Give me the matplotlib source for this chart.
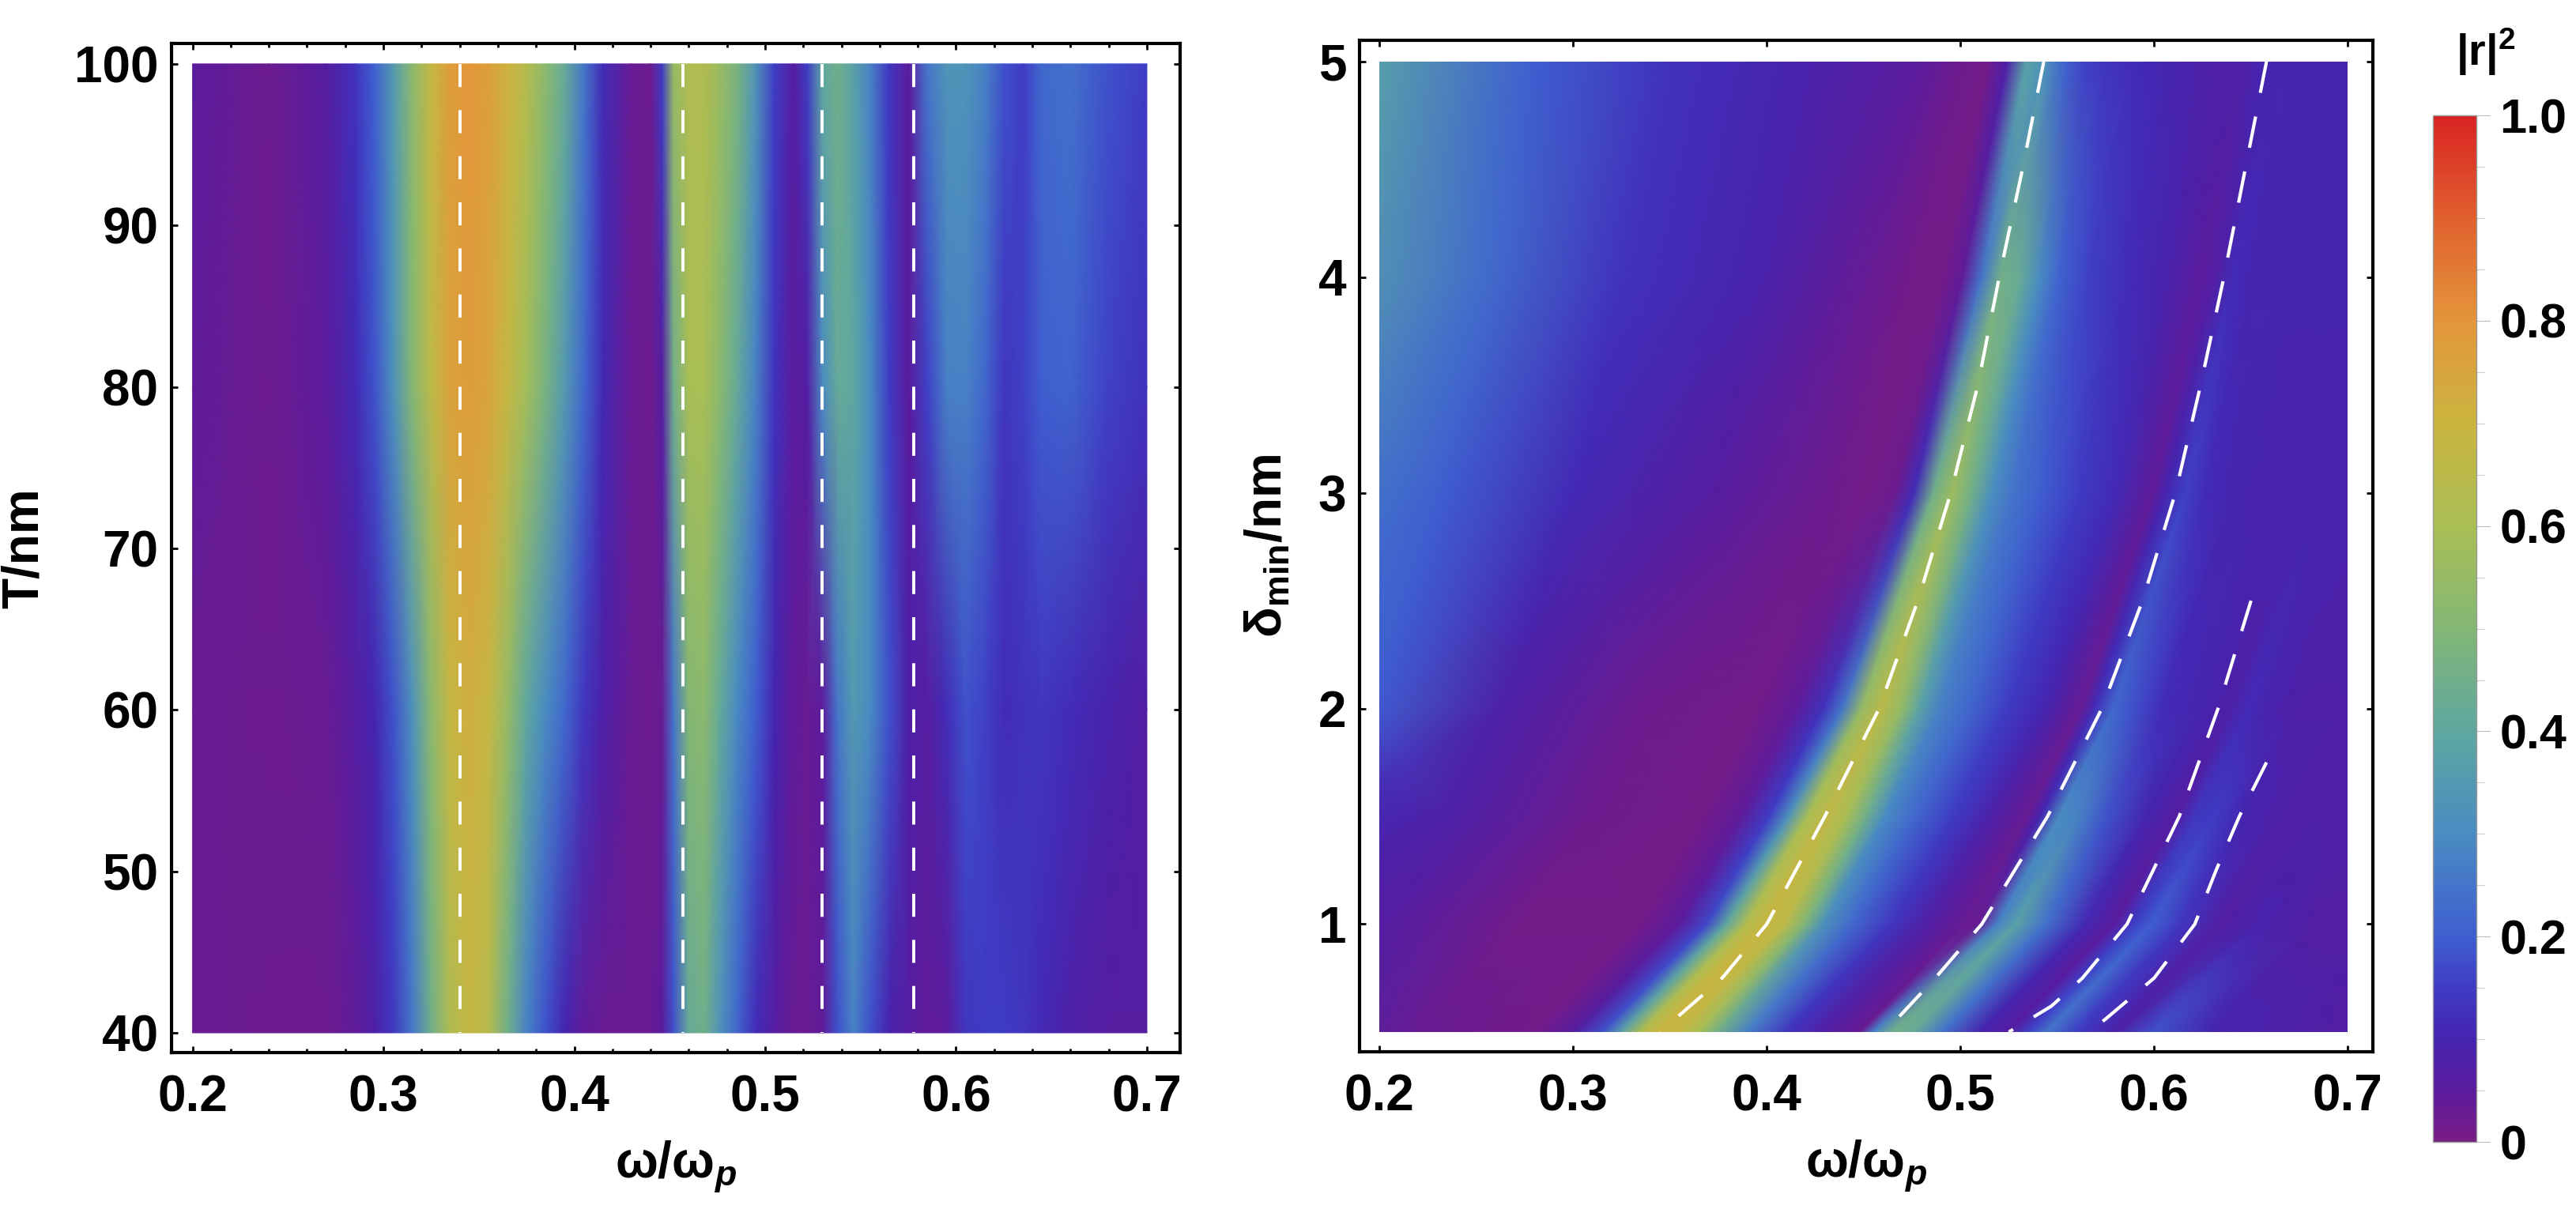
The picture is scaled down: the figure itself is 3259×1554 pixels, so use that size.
import numpy as np
import matplotlib
matplotlib.use('Agg')
import matplotlib.pyplot as plt
from matplotlib.colors import LinearSegmentedColormap
from matplotlib.patches import Rectangle
from matplotlib.ticker import MultipleLocator

plt.rcParams['font.family'] = ['Liberation Sans', 'DejaVu Sans']
plt.rcParams['font.weight'] = 'bold'
plt.rcParams['axes.labelweight'] = 'bold'
plt.rcParams['mathtext.fontset'] = 'custom'
plt.rcParams['mathtext.rm'] = 'Liberation Sans:bold'
plt.rcParams['mathtext.it'] = 'Liberation Sans:bold:italic'
plt.rcParams['mathtext.bf'] = 'Liberation Sans:bold'
plt.rcParams['lines.scale_dashes'] = False

# ---- left panel: |r|^2 over omega/omega_p and T ----
left_omega = [0.20, 0.24, 0.27, 0.285, 0.295, 0.305, 0.315, 0.325, 0.335, 0.345,
              0.355, 0.365, 0.375, 0.385, 0.395, 0.405, 0.415, 0.43, 0.44, 0.446,
              0.452, 0.46, 0.468, 0.476, 0.485, 0.495, 0.505, 0.515, 0.522, 0.53,
              0.538, 0.546, 0.555, 0.565, 0.575, 0.585, 0.595, 0.605, 0.615, 0.625,
              0.635, 0.645, 0.66, 0.68, 0.70]
left_T = [40, 60, 80, 100]
r2_T40 = [0.03, 0.02, 0.02, 0.04, 0.08, 0.14, 0.25, 0.45, 0.62, 0.68,
          0.64, 0.45, 0.28, 0.18, 0.10, 0.04, 0.03, 0.03, 0.03, 0.05,
          0.18, 0.42, 0.45, 0.33, 0.22, 0.12, 0.06, 0.03, 0.03, 0.04,
          0.18, 0.28, 0.18, 0.09, 0.06, 0.04, 0.05, 0.14, 0.15, 0.15,
          0.14, 0.11, 0.08, 0.06, 0.06]
r2_T60 = [0.03, 0.02, 0.03, 0.06, 0.10, 0.18, 0.32, 0.52, 0.68, 0.72,
          0.68, 0.55, 0.40, 0.30, 0.22, 0.14, 0.08, 0.03, 0.02, 0.03,
          0.25, 0.50, 0.52, 0.42, 0.30, 0.20, 0.10, 0.04, 0.03, 0.05,
          0.25, 0.35, 0.30, 0.18, 0.08, 0.06, 0.12, 0.18, 0.16, 0.12,
          0.13, 0.14, 0.12, 0.09, 0.07]
r2_T80 = [0.04, 0.02, 0.05, 0.11, 0.18, 0.32, 0.50, 0.66, 0.76, 0.78,
          0.75, 0.68, 0.58, 0.47, 0.35, 0.22, 0.11, 0.03, 0.02, 0.06,
          0.45, 0.60, 0.60, 0.52, 0.42, 0.28, 0.13, 0.05, 0.07, 0.30,
          0.42, 0.40, 0.30, 0.15, 0.05, 0.16, 0.27, 0.28, 0.22, 0.14,
          0.16, 0.20, 0.21, 0.16, 0.13]
r2_T100 = [0.05, 0.02, 0.06, 0.13, 0.20, 0.35, 0.52, 0.68, 0.78, 0.80,
           0.77, 0.71, 0.63, 0.52, 0.42, 0.25, 0.12, 0.03, 0.02, 0.15,
           0.55, 0.62, 0.62, 0.56, 0.48, 0.33, 0.15, 0.06, 0.15, 0.40,
           0.45, 0.38, 0.28, 0.14, 0.05, 0.25, 0.33, 0.33, 0.28, 0.18,
           0.15, 0.22, 0.24, 0.18, 0.15]
left_marks = [0.34, 0.457, 0.53, 0.578]   # dashed resonance positions

# ---- right panel: |r|^2 over omega/omega_p and delta_min ----
# omega sampled relative to the first ridge; each row is moved by ridge_offset
right_u = [0.00, 0.08, 0.15, 0.22, 0.28, 0.30, 0.315, 0.325, 0.335, 0.345,
           0.355, 0.365, 0.375, 0.39, 0.41, 0.43, 0.448, 0.455, 0.465, 0.475,
           0.49, 0.51, 0.525, 0.535, 0.545, 0.56, 0.58, 0.60, 0.63, 0.70]
right_delta = [0.5, 1.0, 1.5, 2.0, 3.0, 4.0, 5.0]
ridge_offset = [0.0, 0.054, 0.086, 0.114, 0.151, 0.176, 0.199]
r2_d05 = [0.10, 0.10, 0.10, 0.03, 0.01, 0.06, 0.18, 0.38, 0.62, 0.70,
          0.68, 0.60, 0.45, 0.27, 0.14, 0.07, 0.03, 0.28, 0.45, 0.43,
          0.25, 0.10, 0.06, 0.16, 0.25, 0.15, 0.08, 0.18, 0.10, 0.07]
r2_d10 = [0.08, 0.08, 0.06, 0.01, 0.01, 0.05, 0.17, 0.40, 0.62, 0.69,
          0.66, 0.50, 0.32, 0.22, 0.14, 0.07, 0.03, 0.03, 0.28, 0.38,
          0.24, 0.11, 0.05, 0.15, 0.20, 0.14, 0.07, 0.09, 0.07, 0.07]
r2_d15 = [0.15, 0.12, 0.08, 0.02, 0.01, 0.04, 0.15, 0.32, 0.60, 0.67,
          0.60, 0.45, 0.30, 0.22, 0.15, 0.08, 0.03, 0.10, 0.30, 0.28,
          0.18, 0.10, 0.06, 0.14, 0.15, 0.10, 0.08, 0.08, 0.08, 0.08]
r2_d20 = [0.25, 0.20, 0.08, 0.02, 0.01, 0.04, 0.13, 0.25, 0.55, 0.65,
          0.55, 0.38, 0.28, 0.22, 0.15, 0.10, 0.03, 0.12, 0.22, 0.18,
          0.12, 0.10, 0.08, 0.12, 0.09, 0.08, 0.08, 0.08, 0.08, 0.08]
r2_d30 = [0.30, 0.20, 0.11, 0.06, 0.02, 0.01, 0.02, 0.12, 0.45, 0.57,
          0.45, 0.31, 0.25, 0.20, 0.15, 0.11, 0.04, 0.10, 0.16, 0.12,
          0.10, 0.09, 0.09, 0.09, 0.09, 0.09, 0.09, 0.09, 0.09, 0.09]
r2_d40 = [0.37, 0.23, 0.13, 0.09, 0.03, 0.01, 0.01, 0.04, 0.25, 0.46,
          0.42, 0.30, 0.21, 0.16, 0.12, 0.09, 0.05, 0.07, 0.12, 0.10,
          0.10, 0.10, 0.10, 0.10, 0.10, 0.10, 0.10, 0.10, 0.10, 0.10]
r2_d50 = [0.37, 0.20, 0.13, 0.09, 0.05, 0.02, 0.01, 0.08, 0.38, 0.32,
          0.21, 0.16, 0.14, 0.12, 0.10, 0.08, 0.08, 0.10, 0.10, 0.10,
          0.10, 0.10, 0.10, 0.10, 0.10, 0.10, 0.10, 0.10, 0.10, 0.10]

# dashed mode curves (delta, omega), listed from the top end down
curveA_d = [5.0, 4.5, 4.0, 3.5, 3.0, 2.5, 2.0, 1.5, 1.0, 0.75, 0.5]
curveA_w = [0.543, 0.532, 0.520, 0.509, 0.495, 0.478, 0.458, 0.430, 0.400, 0.377, 0.345]
curveB_d = [5.0, 4.5, 4.0, 3.5, 3.0, 2.5, 2.0, 1.5, 1.0, 0.75, 0.5]
curveB_w = [0.658, 0.647, 0.636, 0.624, 0.611, 0.594, 0.573, 0.545, 0.511, 0.487, 0.461]
curveC_d = [2.5, 2.0, 1.5, 1.0, 0.75, 0.62, 0.5]
curveC_w = [0.650, 0.633, 0.613, 0.586, 0.563, 0.547, 0.525]
curveD_d = [1.75, 1.5, 1.25, 1.0, 0.75, 0.5]
curveD_w = [0.658, 0.644, 0.632, 0.621, 0.600, 0.567]

cmap_colors = [(0.0, '#781c86'), (0.05, '#5a1b9e'), (0.1, '#4524b0'),
               (0.15, '#3f3cc4'), (0.2, '#3f5fd0'), (0.3, '#4a8cc2'),
               (0.4, '#5fa7a0'), (0.5, '#83b775'), (0.6, '#a9be55'),
               (0.7, '#cbb540'), (0.8, '#e3963a'), (0.9, '#e1602f'),
               (1.0, '#d92323')]
rainbow = LinearSegmentedColormap.from_list('rainbow_m', cmap_colors)

fig = plt.figure(figsize=(32.59, 15.54), dpi=100)
ax1 = fig.add_axes([0.0666, 0.1429, 0.3915, 0.8218])
ax2 = fig.add_axes([0.5278, 0.1435, 0.3934, 0.8237])
cax = fig.add_axes([0.9445, 0.0701, 0.0169, 0.8359])

fs = 46

# left
Z1 = np.array([r2_T40, r2_T60, r2_T80, r2_T100])
X1, Y1 = np.meshgrid(left_omega, left_T)
m1 = ax1.pcolormesh(X1, Y1, Z1, shading='gouraud', cmap=rainbow, vmin=0, vmax=1)
for w in left_marks:
    ax1.plot([w, w], [100, 40], color='white', lw=2.8, dashes=(21, 21))
ax1.set_xlim(0.189, 0.7174)
ax1.set_ylim(38.78, 101.27)
ax1.set_xticks([0.2, 0.3, 0.4, 0.5, 0.6, 0.7])
ax1.set_xticklabels(['0.2', '0.3', '0.4', '0.5', '0.6', '0.7'])
ax1.xaxis.set_minor_locator(MultipleLocator(0.02))
ax1.set_yticks([40, 50, 60, 70, 80, 90, 100])
ax1.set_xlabel('ω/ω$_p$', fontsize=fs, labelpad=16, fontweight='bold')
ax1.set_ylabel('T/nm', fontsize=fs, labelpad=24, fontweight='bold')

# right
Z2 = np.array([r2_d05, r2_d10, r2_d15, r2_d20, r2_d30, r2_d40, r2_d50])
X2 = np.array(right_u)[None, :] + np.array(ridge_offset)[:, None]
Y2 = np.repeat(np.array(right_delta)[:, None], len(right_u), axis=1)
m2 = ax2.pcolormesh(X2, Y2, Z2, shading='gouraud', cmap=rainbow, vmin=0, vmax=1)
m2.set_clip_path(Rectangle((0.2, 0.5), 0.5, 4.5, transform=ax2.transData))
for cd, cw in [(curveA_d, curveA_w), (curveB_d, curveB_w),
               (curveC_d, curveC_w), (curveD_d, curveD_w)]:
    ax2.plot(cw, cd, color='white', lw=3, dashes=(29, 22))
ax2.set_xlim(0.1898, 0.713)
ax2.set_ylim(0.408, 5.099)
ax2.set_xticks([0.2, 0.3, 0.4, 0.5, 0.6, 0.7])
ax2.set_xticklabels(['0.2', '0.3', '0.4', '0.5', '0.6', '0.7'])
ax2.set_yticks([1, 2, 3, 4, 5])
ax2.set_xlabel('ω/ω$_p$', fontsize=fs, labelpad=16, fontweight='bold')
ax2.set_ylabel('δ$_{\\rm min}$/nm', fontsize=fs, labelpad=24, fontweight='bold')

for ax in (ax1, ax2):
    ax.set_facecolor('white')
    for s in ax.spines.values():
        s.set_linewidth(3)
    ax.tick_params(which='both', direction='in', top=True, right=True,
                   labelsize=fs, width=2)
    ax.tick_params(which='major', length=6)
    ax.tick_params(which='minor', length=3.5)
    ax.tick_params(axis='x', pad=20)
    ax.tick_params(axis='y', pad=12)
    for lab in ax.get_xticklabels() + ax.get_yticklabels():
        lab.set_fontweight('bold')

cb = fig.colorbar(m2, cax=cax)
cb.set_ticks([0, 0.2, 0.4, 0.6, 0.8, 1.0])
cb.set_ticklabels(['0', '0.2', '0.4', '0.6', '0.8', '1.0'])
cb.ax.yaxis.set_minor_locator(MultipleLocator(0.05))
cb.ax.tick_params(which='major', length=12, width=0.8, color='#bbbbbb',
                  labelsize=44, pad=9)
cb.ax.tick_params(which='minor', length=7, width=0.8, color='#cccccc')
cb.outline.set_edgecolor('#999999')
cb.outline.set_linewidth(1)
for lab in cb.ax.get_yticklabels():
    lab.set_fontweight('bold')
fig.text(0.965, 0.958, '|r|$^2$', fontsize=40, ha='center', va='center',
         fontweight='bold')

fig.savefig('out.png', dpi=100, facecolor='white')
